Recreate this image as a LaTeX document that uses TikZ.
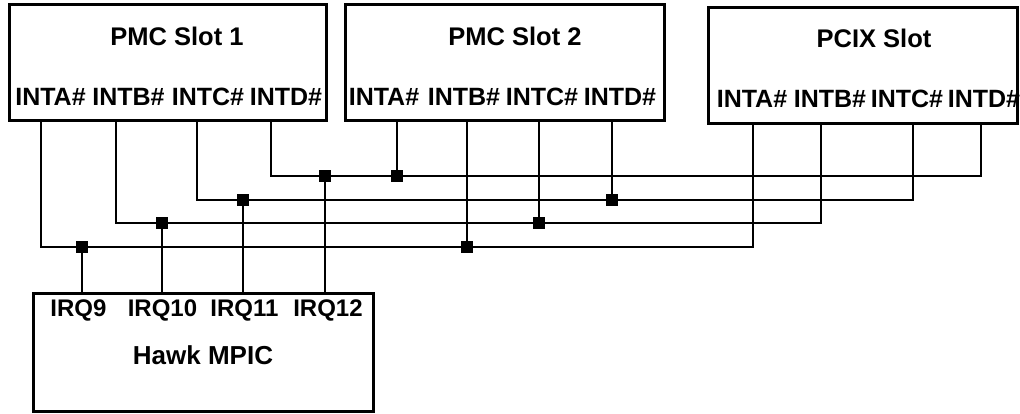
\documentclass[tikz,border=0pt]{standalone}
\usepackage{fontspec}
\setmainfont{Liberation Sans}
\begin{document}
\begin{tikzpicture}[x=1pt,y=-1pt,
  box/.style={draw,line width=3pt,inner sep=0pt},
  title/.style={font=\fontsize{25.5}{30}\selectfont\bfseries,inner sep=0pt},
  pin/.style={font=\fontsize{25}{30}\selectfont\bfseries,inner sep=0pt},
  irq/.style={font=\fontsize{24}{30}\selectfont\bfseries,inner sep=0pt},
  wire/.style={line width=2.5pt},
  junc/.style={fill=black,draw=none,minimum size=12pt,inner sep=0pt}]
\useasboundingbox (0,0) rectangle (1020,414);
% boxes
\node[box,minimum width=317pt,minimum height=116pt] (s1) at (167.5,63) {};
\node[box,minimum width=319pt,minimum height=116pt] (s2) at (504.5,63) {};
\node[box,minimum width=309pt,minimum height=116pt] (s3) at (862.5,65.5) {};
\node[box,minimum width=340pt,minimum height=118pt] (mp) at (203,352) {};
% titles
\node[title] (t1) at (177,36) {PMC Slot 1};
\node[title] (t2) at (515,36) {PMC Slot 2};
\node[title] (t3) at (874,38) {PCIX Slot};
\node[title,font=\fontsize{26}{30}\selectfont\bfseries] (t4) at (203,355) {Hawk MPIC};
% pin labels
\node[pin] (l1a) at (50.5,97) {INTA\#};
\node[pin] (l1b) at (128.5,97) {INTB\#};
\node[pin] (l1c) at (208,97) {INTC\#};
\node[pin] (l1d) at (286,97) {INTD\#};
\node[pin] (l2a) at (384,97) {INTA\#};
\node[pin] (l2b) at (464,97) {INTB\#};
\node[pin] (l2c) at (542,97) {INTC\#};
\node[pin] (l2d) at (620,97) {INTD\#};
\node[pin] (l3a) at (752,99) {INTA\#};
\node[pin] (l3b) at (830,99) {INTB\#};
\node[pin] (l3c) at (907,99) {INTC\#};
\node[pin] (l3d) at (984,99) {INTD\#};
\node[irq] (q9) at (78.5,310) {IRQ9};
\node[irq] (q10) at (162.5,310) {IRQ10};
\node[irq] (q11) at (244.5,310) {IRQ11};
\node[irq] (q12) at (328,310) {IRQ12};
% pin points
\coordinate (p1a) at (41,121);  \coordinate (p1b) at (116,121);
\coordinate (p1c) at (197,121); \coordinate (p1d) at (271,121);
\coordinate (p2a) at (397,121); \coordinate (p2b) at (467,121);
\coordinate (p2c) at (539,121); \coordinate (p2d) at (612,121);
\coordinate (p3a) at (753,123.5); \coordinate (p3b) at (821,123.5);
\coordinate (p3c) at (913,123.5); \coordinate (p3d) at (981,123.5);
\coordinate (i9) at (82,293);  \coordinate (i10) at (162,293);
\coordinate (i11) at (243,293); \coordinate (i12) at (325,293);
% bus corners
\coordinate (a1) at (41,247);  \coordinate (a3) at (753,247);
\coordinate (b1) at (116,223); \coordinate (b3) at (821,223);
\coordinate (c1) at (197,200); \coordinate (c3) at (913,200);
\coordinate (d1) at (271,176); \coordinate (d3) at (981,176);
% junctions
\coordinate (jA9) at (82,247);  \coordinate (jA2) at (467,247);
\coordinate (jB10) at (162,223); \coordinate (jB2) at (539,223);
\coordinate (jC11) at (243,200); \coordinate (jC2) at (612,200);
\coordinate (jD12) at (325,176); \coordinate (jD2) at (397,176);
% buses
\draw[wire] (p1a) -- (a1) -- (a3) -- (p3a);
\draw[wire] (p1b) -- (b1) -- (b3) -- (p3b);
\draw[wire] (p1c) -- (c1) -- (c3) -- (p3c);
\draw[wire] (p1d) -- (d1) -- (d3) -- (p3d);
% taps
\draw[wire] (p2a) -- (jD2);
\draw[wire] (p2b) -- (jA2);
\draw[wire] (p2c) -- (jB2);
\draw[wire] (p2d) -- (jC2);
\draw[wire] (jA9) -- (i9);
\draw[wire] (jB10) -- (i10);
\draw[wire] (jC11) -- (i11);
\draw[wire] (jD12) -- (i12);
% junction dots
\foreach \j in {jA9,jA2,jB10,jB2,jC11,jC2,jD12,jD2}
  \node[junc] at (\j) {};
\end{tikzpicture}
\end{document}
